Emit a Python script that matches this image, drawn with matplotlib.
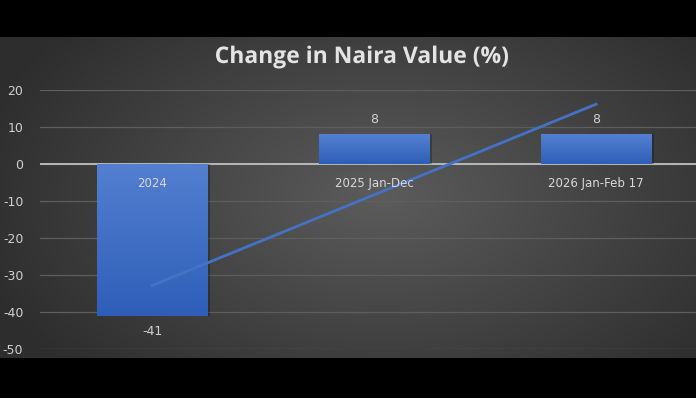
import numpy as np
import matplotlib.pyplot as plt
from matplotlib import patheffects

# data
categories = ["2024", "2025 Jan-Dec", "2026 Jan-Feb 17"]
values = [-41, 8, 8]
yticks = [20, 10, 0, -10, -20, -30, -40, -50]

plt.rcParams["axes.unicode_minus"] = False

W, H = 696, 398
fig = plt.figure(figsize=(W / 100, H / 100), dpi=100, facecolor="black")

# gray panel with a soft radial gradient (black bands top and bottom)
bg = fig.add_axes([0, 1 - 358 / H, 1, (358 - 37) / H])
bg.set_axis_off()
gx, gy = np.meshgrid(np.linspace(-1, 1, 400), np.linspace(-1, 1, 200))
r = np.sqrt(((gx - 0.1) / 1.0) ** 2 + (gy / 1.3) ** 2)
shade = 0.36 - 0.15 * np.clip(r, 0, 1.2)
bg.imshow(np.dstack([shade] * 3), extent=[0, 1, 0, 1], aspect="auto")

# plot area
ax = fig.add_axes([40 / W, 1 - 349 / H, (696 - 40) / W, (349 - 90) / H])
ax.patch.set_alpha(0)
for s in ax.spines.values():
    s.set_visible(False)

x = np.arange(len(categories))
ax.set_yticks(yticks)
ax.set_xticks([])
ax.tick_params(axis="y", length=0, colors="#d0d0d0", labelsize=9, pad=12)
ax.grid(axis="y", color="#5e5e5e", linewidth=0.9)
ax.set_axisbelow(True)
ax.axhline(0, color="#b8b8b8", linewidth=1.4, zorder=2)

# bars with a blue vertical gradient
grad = np.linspace(0, 1, 100)[:, None, None]
top_c = np.array([0.33, 0.50, 0.82])
bot_c = np.array([0.18, 0.37, 0.72])
img = top_c * (1 - grad) + bot_c * grad
for xi, v in zip(x, values):
    ax.bar(xi + 0.012, v, width=0.5, color="black", alpha=0.25, zorder=2.5, linewidth=0)
    b = ax.bar(xi, v, width=0.5, color="#3f6fc6", zorder=3, linewidth=0)[0]
    lo, hi = min(0, v), max(0, v)
    im = ax.imshow(img, extent=[xi - 0.25, xi + 0.25, lo, hi], aspect="auto",
                   zorder=3.1, origin="upper")
    im.set_clip_path(b)
    # value labels
    if v >= 0:
        ax.text(xi, v + 3.9, str(v), ha="center", va="center",
                color="#d0d0d0", fontsize=9, zorder=5)
    else:
        ax.text(xi, v - 4.3, str(v), ha="center", va="center",
                color="#d0d0d0", fontsize=9, zorder=5)
    # category label just under the zero line
    ax.text(xi, -5.3, categories[xi], ha="center", va="center",
            color="#d9d9d9", fontsize=8.5, zorder=5)

ax.set_ylim(-50, 20)
ax.set_xlim(-0.505, 2.45)

# linear trendline
k, c = np.polyfit(x, values, 1)
ax.plot(x, k * x + c, color="#4472c4", linewidth=2, zorder=4)

fig.text(362 / W, 1 - 57 / H, "Change in Naira Value (%)", ha="center", va="center",
         color="#e4e4e4", fontsize=16.5, fontweight="bold", family="Open Sans",
         path_effects=[patheffects.withSimplePatchShadow(offset=(1, -1.5), alpha=0.6)])

fig.savefig("out.png", dpi=100, facecolor="black")
